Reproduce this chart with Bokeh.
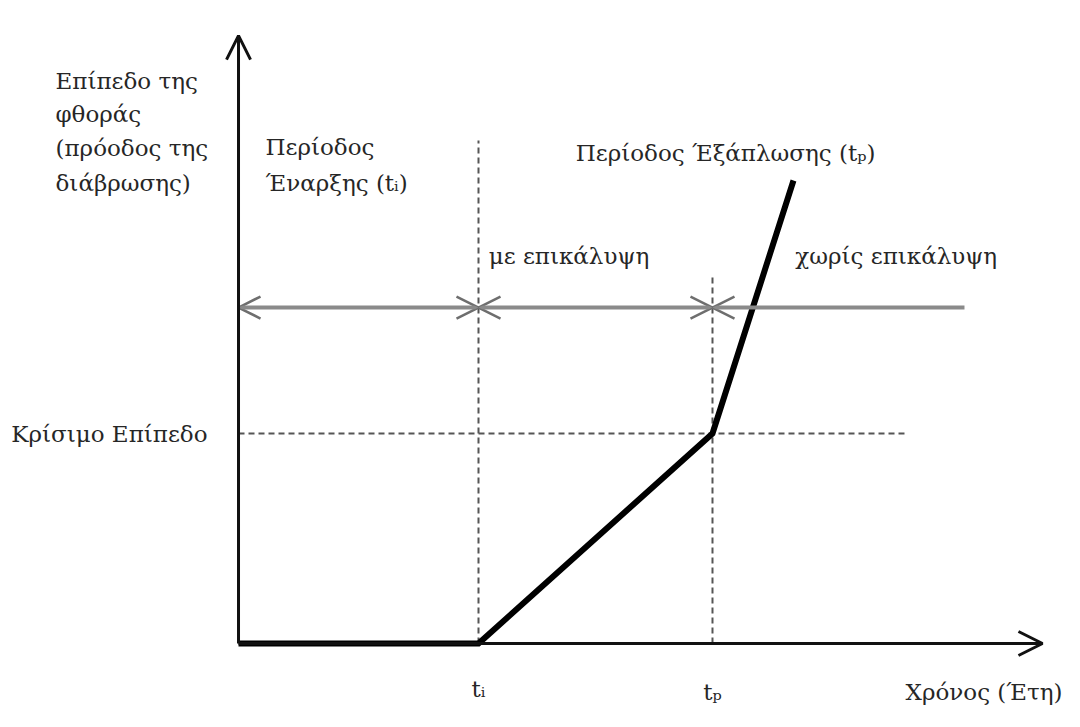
from bokeh.plotting import figure
from bokeh.models import Arrow, OpenHead, Range1d, ColumnDataSource
from bokeh.core.properties import value
from bokeh.embed import file_html
from bokeh.resources import INLINE

# ---- data (arbitrary units) ----
curve_time = [0.0, 4.0, 7.9, 9.25]
curve_level = [0.0, 0.0, 4.0, 8.82]
t_initiation = 4.0
t_propagation = 7.9
critical_level = 4.0
period_level = 6.4
period_end = 12.1
critical_end = 11.1
x_axis_end = 13.4
y_axis_end = 11.58
ti_dash_top = 9.58
tp_dash_top = 7.0

FONT = "DejaVu Serif"
FS = "23px"
TXT = "#262626"

X0, X1 = -3.967, 13.767
p = figure(width=1064, height=711, output_backend="svg", toolbar_location=None,
           x_range=Range1d(X0, X1), y_range=Range1d(-1.295, 12.248),
           min_border=0)
p.axis.visible = False
p.grid.visible = False
p.outline_line_color = None
p.background_fill_color = "white"

# dashed guide lines
p.segment(x0=[t_initiation, t_propagation, 0.0],
          y0=[0.0, 0.0, critical_level],
          x1=[t_initiation, t_propagation, critical_end],
          y1=[ti_dash_top, tp_dash_top, critical_level],
          line_color="#555555", line_width=2, line_dash="6 4")

# period line with open arrow heads
def head(color="#6e6e6e"):
    return OpenHead(size=22, line_color=color, line_width=2.5)

p.add_layout(Arrow(x_start=0.0, y_start=period_level, x_end=t_initiation, y_end=period_level,
                   start=head(), end=head(), line_color="#8a8a8a", line_width=4))
p.add_layout(Arrow(x_start=t_initiation, y_start=period_level, x_end=t_propagation, y_end=period_level,
                   start=head(), end=head(), line_color="#8a8a8a", line_width=4))
p.add_layout(Arrow(x_start=t_propagation, y_start=period_level, x_end=period_end, y_end=period_level,
                   start=head(), end=None, line_color="#8a8a8a", line_width=4))

# axes with arrows
p.add_layout(Arrow(x_start=0.0, y_start=0.0, x_end=x_axis_end, y_end=0.0,
                   end=OpenHead(size=24, line_color="#111111", line_width=3),
                   line_color="#111111", line_width=3))
p.add_layout(Arrow(x_start=0.0, y_start=0.0, x_end=0.0, y_end=y_axis_end,
                   end=OpenHead(size=24, line_color="#111111", line_width=3),
                   line_color="#111111", line_width=3))

# deterioration curve
p.line(curve_time, curve_level, line_color="black", line_width=6, line_join="miter")

# texts
left_lines = ["Επίπεδο της", "φθοράς", "(πρόοδος της", "διάβρωσης)"]
p.text(x=[-3.05] * 4, y=[10.72, 10.08, 9.43, 8.78], text=left_lines,
       text_font=value(FONT), text_font_size=FS, text_color=TXT,
       text_baseline="middle", text_align="left")

free = ColumnDataSource(dict(
    x=[0.45, 0.45, 5.62, 4.17, 9.28],
    y=[9.45, 8.78, 9.35, 7.39, 7.39],
    t=["Περίοδος", "Έναρξης (tᵢ)", "Περίοδος Έξάπλωσης (tₚ)", "με επικάλυψη", "χωρίς επικάλυψη"],
))
p.text(x="x", y="y", text="t", source=free,
       text_font=value(FONT), text_font_size=FS, text_color=TXT,
       text_baseline="middle", text_align="left")

p.text(x=[0.0], y=[critical_level], text=["Κρίσιμο Επίπεδο"], x_offset=-31,
       text_font=value(FONT), text_font_size=FS, text_color=TXT,
       text_baseline="middle", text_align="right")

p.text(x=[t_initiation, t_propagation], y=[0.0, 0.0], text=["tᵢ", "tₚ"], y_offset=[45, 48],
       text_font=value(FONT), text_font_size=FS, text_color=TXT,
       text_baseline="middle", text_align="center")

p.text(x=[X1], y=[0.0], text=["Χρόνος (Έτη)"], y_offset=48, x_offset=-2,
       text_font=value(FONT), text_font_size=FS, text_color=TXT,
       text_baseline="middle", text_align="right")

open("out.html", "w").write(file_html(p, INLINE))
